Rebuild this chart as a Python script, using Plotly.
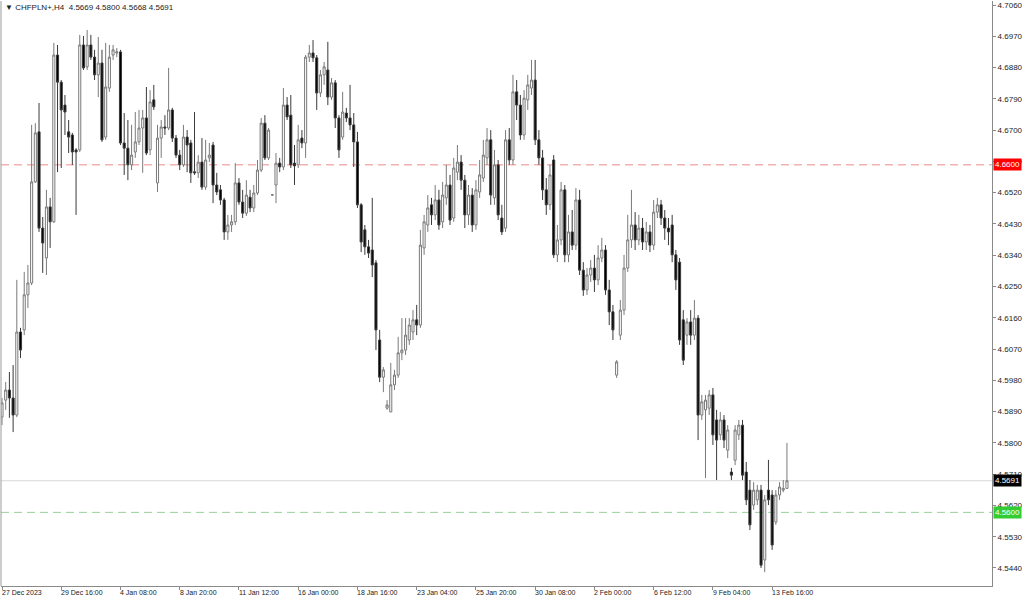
import plotly.graph_objects as go

symbol_title = "\u25BC CHFPLN+,H4\u00a0\u00a04.5669 4.5800 4.5668 4.5691"

opens = [
4.5874,4.5923,4.5952,4.5929,4.5880,4.6119,4.6125,4.6226,4.6260,4.6551,
4.6695,4.6418,4.6332,4.6479,4.6436,4.6916,4.6838,4.6772,4.6695,4.6686,
4.6643,4.6643,4.6945,4.6882,4.6945,4.6910,4.6859,4.6893,4.6680,4.6821,
4.6916,4.6922,4.6925,4.6663,4.6648,4.6600,4.6637,4.6666,4.6706,4.6735,
4.6643,4.6787,4.6548,4.6677,4.6709,4.6706,4.6758,4.6677,4.6628,4.6600,
4.6680,4.6663,4.6580,4.6577,4.6608,4.6536,4.6620,4.6657,4.6542,4.6528,
4.6499,4.6407,4.6427,4.6436,4.6548,4.6493,4.6461,4.6507,4.6476,4.6519,
4.6585,4.6720,4.6620,4.6513,4.6542,4.6605,4.6594,4.6772,4.6743,4.6605,
4.6600,4.6677,4.6663,4.6910,4.6922,4.6908,4.6807,4.6859,4.6873,4.6795,
4.6836,4.6735,4.6680,4.6749,4.6735,4.6715,4.6666,4.6485,4.6413,4.6364,
4.6355,4.6318,4.6096,4.5989,4.5900,4.5889,4.5967,4.5995,4.6059,4.6067,
4.6096,4.6119,4.6154,4.6139,4.6361,4.6427,4.6485,4.6456,4.6499,4.6436,
4.6505,4.6542,4.6447,4.6579,4.6608,4.6556,4.6456,4.6513,4.6427,4.6522,
4.6562,4.6620,4.6672,4.6505,4.6600,4.6447,4.6418,4.6672,4.6614,4.6810,
4.6772,4.6686,4.6787,4.6821,4.6844,4.6672,4.6620,4.6528,4.6485,4.6614,
4.6341,4.6384,4.6528,4.6341,4.6407,4.6369,4.6499,4.6297,4.6240,4.6283,
4.6303,4.6269,4.6332,4.6355,4.6240,4.6177,4.5995,4.6110,4.6182,4.6303,
4.6384,4.6427,4.6384,4.6418,4.6378,4.6407,4.6369,4.6464,4.6485,4.6447,
4.6418,4.6427,4.6341,4.6320,4.6154,4.6110,4.6148,4.6110,4.6159,4.5880,
4.5895,4.5900,4.5938,4.5866,4.5823,4.5866,4.5779,4.5716,4.5750,4.5823,
4.5851,4.5716,4.5664,4.5621,4.5636,4.5664,4.5463,4.5664,4.5650,4.5572,
4.5650,4.5664,4.5669]

highs = [
4.5929,4.5975,4.6004,4.6024,4.6269,4.6131,4.6292,4.6312,4.6715,4.6720,
4.6778,4.6450,4.6528,4.6505,4.6951,4.6945,4.6844,4.6801,4.6729,4.6692,
4.6648,4.6974,4.6971,4.6988,4.6974,4.6931,4.6968,4.6931,4.6951,4.6945,
4.6945,4.6936,4.6931,4.6749,4.6729,4.6715,4.6752,4.6758,4.6758,4.6824,
4.6815,4.6830,4.6715,4.6729,4.6743,4.6879,4.6764,4.6686,4.6643,4.6715,
4.6700,4.6672,4.6752,4.6628,4.6677,4.6672,4.6663,4.6666,4.6577,4.6542,
4.6505,4.6456,4.6456,4.6605,4.6562,4.6528,4.6556,4.6528,4.6542,4.6614,
4.6735,4.6743,4.6706,4.6515,4.6634,4.6620,4.6821,4.6795,4.6801,4.6657,
4.6715,4.6700,4.6916,4.6945,4.6959,4.6916,4.6873,4.6896,4.6954,4.6850,
4.6844,4.6743,4.6810,4.6764,4.6830,4.6749,4.6695,4.6490,4.6427,4.6384,
4.6505,4.6326,4.6125,4.6018,4.5923,4.6030,4.6010,4.6105,4.6159,4.6159,
4.6159,4.6182,4.6197,4.6413,4.6456,4.6513,4.6505,4.6542,4.6528,4.6551,
4.6600,4.6571,4.6620,4.6657,4.6628,4.6571,4.6542,4.6533,4.6556,4.6614,
4.6672,4.6706,4.6700,4.6643,4.6614,4.6485,4.6700,4.6706,4.6859,4.6844,
4.6801,4.6815,4.6859,4.6902,4.6902,4.6700,4.6643,4.6562,4.6600,4.6628,
4.6427,4.6551,4.6542,4.6456,4.6470,4.6533,4.6528,4.6320,4.6303,4.6326,
4.6341,4.6369,4.6390,4.6369,4.6269,4.6197,4.6038,4.6211,4.6341,4.6456,
4.6528,4.6464,4.6456,4.6447,4.6436,4.6427,4.6499,4.6505,4.6499,4.6470,
4.6447,4.6456,4.6355,4.6332,4.6182,4.6159,4.6182,4.6211,4.6168,4.5938,
4.5938,4.5952,4.5958,4.5895,4.5889,4.5880,4.5851,4.5728,4.5851,4.5866,
4.5866,4.5745,4.5693,4.5687,4.5679,4.5679,4.5650,4.5751,4.5664,4.5664,
4.5687,4.5693,4.5800]

lows = [
4.5851,4.5895,4.5872,4.5831,4.5874,4.6044,4.6110,4.6188,4.6254,4.6548,
4.6407,4.6289,4.6283,4.6361,4.6433,4.6579,4.6591,4.6686,4.6634,4.6600,
4.6456,4.6637,4.6873,4.6873,4.6902,4.6844,4.6795,4.6666,4.6672,4.6810,
4.6902,4.6910,4.6657,4.6571,4.6556,4.6585,4.6620,4.6657,4.6577,4.6628,
4.6628,4.6758,4.6522,4.6620,4.6686,4.6700,4.6666,4.6620,4.6585,4.6594,
4.6579,4.6548,4.6571,4.6562,4.6528,4.6528,4.6608,4.6490,4.6513,4.6485,
4.6384,4.6384,4.6407,4.6427,4.6485,4.6447,4.6453,4.6464,4.6464,4.6513,
4.6579,4.6614,4.6614,4.6511,4.6490,4.6579,4.6585,4.6729,4.6591,4.6542,
4.6591,4.6648,4.6620,4.6896,4.6896,4.6758,4.6795,4.6830,4.6772,4.6787,
4.6706,4.6620,4.6672,4.6723,4.6700,4.6594,4.6476,4.6349,4.6341,4.6332,
4.6277,4.6067,4.5975,4.5946,4.5895,4.5889,4.5952,4.5987,4.6038,4.6053,
4.6082,4.6096,4.6110,4.6131,4.6341,4.6407,4.6427,4.6441,4.6413,4.6418,
4.6485,4.6427,4.6436,4.6556,4.6528,4.6418,4.6427,4.6407,4.6413,4.6505,
4.6551,4.6600,4.6485,4.6485,4.6441,4.6398,4.6407,4.6600,4.6600,4.6729,
4.6672,4.6672,4.6758,4.6801,4.6657,4.6600,4.6499,4.6456,4.6470,4.6332,
4.6320,4.6369,4.6320,4.6320,4.6355,4.6355,4.6283,4.6223,4.6226,4.6263,
4.6234,4.6254,4.6320,4.6226,4.6139,4.6096,4.5987,4.6096,4.6168,4.6292,
4.6361,4.6355,4.6369,4.6355,4.6355,4.6349,4.6355,4.6447,4.6427,4.6384,
4.6369,4.6320,4.6240,4.6082,4.6024,4.6082,4.6082,4.6096,4.5808,4.5866,
4.5699,4.5880,4.5794,4.5693,4.5808,4.5785,4.5756,4.5693,4.5736,4.5808,
4.5693,4.5621,4.5549,4.5607,4.5621,4.5440,4.5428,4.5621,4.5492,4.5564,
4.5636,4.5658,4.5668]

closes = [
4.5915,4.5952,4.5929,4.5880,4.6119,4.6067,4.6226,4.6260,4.6551,4.6692,
4.6418,4.6375,4.6479,4.6436,4.6916,4.6838,4.6758,4.6752,4.6680,4.6637,
4.6637,4.6945,4.6879,4.6945,4.6910,4.6859,4.6893,4.6672,4.6824,4.6910,
4.6931,4.6925,4.6663,4.6648,4.6600,4.6628,4.6666,4.6706,4.6735,4.6634,
4.6781,4.6767,4.6677,4.6709,4.6706,4.6758,4.6677,4.6628,4.6600,4.6680,
4.6657,4.6577,4.6577,4.6608,4.6536,4.6614,4.6628,4.6542,4.6522,4.6499,
4.6407,4.6427,4.6436,4.6548,4.6493,4.6461,4.6513,4.6476,4.6519,4.6585,
4.6720,4.6620,4.6700,4.6514,4.6605,4.6594,4.6772,4.6738,4.6600,4.6597,
4.6672,4.6663,4.6910,4.6922,4.6908,4.6807,4.6859,4.6882,4.6795,4.6836,
4.6735,4.6643,4.6752,4.6735,4.6715,4.6666,4.6485,4.6378,4.6364,4.6346,
4.6312,4.6125,4.5989,4.6010,4.5909,4.5967,4.5995,4.6059,4.6067,4.6110,
4.6139,4.6154,4.6139,4.6369,4.6436,4.6476,4.6456,4.6499,4.6427,4.6513,
4.6542,4.6441,4.6591,4.6608,4.6556,4.6456,4.6513,4.6427,4.6528,4.6571,
4.6628,4.6672,4.6513,4.6600,4.6456,4.6407,4.6672,4.6614,4.6810,4.6772,
4.6686,4.6792,4.6830,4.6844,4.6672,4.6620,4.6528,4.6485,4.6571,4.6341,
4.6384,4.6528,4.6341,4.6407,4.6369,4.6499,4.6297,4.6240,4.6283,4.6303,
4.6269,4.6332,4.6355,4.6240,4.6177,4.6125,4.6033,4.6182,4.6303,4.6384,
4.6427,4.6384,4.6418,4.6378,4.6407,4.6369,4.6464,4.6485,4.6447,4.6418,
4.6407,4.6341,4.6269,4.6096,4.6038,4.6148,4.6110,4.6159,4.5880,4.5918,
4.5923,4.5938,4.5823,4.5808,4.5866,4.5808,4.5837,4.5707,4.5837,4.5851,
4.5707,4.5636,4.5564,4.5664,4.5664,4.5448,4.5636,4.5636,4.5506,4.5650,
4.5673,4.5669,4.5691]

date_ticks = [0, 16, 32, 48, 64, 80, 96, 112, 128, 144, 160, 176, 192, 208]
date_labels = ["27 Dec 2023", "29 Dec 16:00", "4 Jan 08:00", "8 Jan 20:00",
               "11 Jan 12:00", "16 Jan 00:00", "18 Jan 16:00", "23 Jan 04:00",
               "25 Jan 20:00", "30 Jan 08:00", "2 Feb 00:00", "6 Feb 12:00",
               "9 Feb 04:00", "13 Feb 16:00"]

price_ticks = [4.7060, 4.6970, 4.6880, 4.6790, 4.6700, 4.6610, 4.6520, 4.6430,
               4.6340, 4.6250, 4.6160, 4.6070, 4.5980, 4.5890, 4.5800, 4.5710,
               4.5620, 4.5530, 4.5440]

level_red = 4.6600
level_green = 4.5600
last_price = 4.5691

bars = list(range(len(opens)))

fig = go.Figure()
fig.add_trace(go.Candlestick(
    x=bars, open=opens, high=highs, low=lows, close=closes,
    increasing=dict(line=dict(color="#7a7a7a", width=1), fillcolor="#ffffff"),
    decreasing=dict(line=dict(color="#3a3a3a", width=1), fillcolor="#000000"),
    whiskerwidth=0, hoverinfo="skip", showlegend=False,
))

FONT = "Liberation Sans, Arial, sans-serif"
shapes = [
    dict(type="line", xref="paper", x0=0, x1=1, yref="y", y0=level_red, y1=level_red,
         line=dict(color="rgb(238,140,140)", width=1, dash="8px,5px"), layer="below"),
    dict(type="line", xref="paper", x0=0, x1=1, yref="y", y0=last_price, y1=last_price,
         line=dict(color="rgb(215,215,215)", width=1), layer="below"),
    dict(type="line", xref="paper", x0=0, x1=1, yref="y", y0=level_green, y1=level_green,
         line=dict(color="rgb(150,210,150)", width=1, dash="8px,5px"), layer="below"),
    dict(type="line", xref="paper", x0=0, x1=0, yref="paper", y0=0, y1=1,
         line=dict(color="#9a9a9a", width=1)),
]

annotations = [
    dict(xref="paper", yref="paper", x=0, y=1, xanchor="left", yanchor="top",
         text=symbol_title, showarrow=False, xshift=2, yshift=0,
         font=dict(family=FONT, size=8, color="#222222")),
]
for lv, bg in [(level_red, "#ff0000"), (last_price, "#000000"), (level_green, "#33cc33")]:
    annotations.append(dict(xref="paper", yref="y", x=1, y=lv, xanchor="left",
                            yanchor="middle", text=f"{lv:.4f}", showarrow=False,
                            xshift=1, bgcolor=bg, borderpad=1,
                            font=dict(family=FONT, size=8, color="#ffffff")))
for pos, lab in zip(date_ticks, date_labels):
    annotations.append(dict(xref="x", yref="paper", x=pos, y=0, xanchor="left",
                            yanchor="top", text=lab, showarrow=False,
                            xshift=-2, yshift=-1,
                            font=dict(family=FONT, size=7, color="#222222")))

fig.update_layout(
    width=1024, height=599,
    margin=dict(l=1, r=30, t=1, b=13, pad=0),
    paper_bgcolor="#ffffff", plot_bgcolor="#ffffff",
    showlegend=False,
    shapes=shapes, annotations=annotations,
    xaxis=dict(range=[-0.27, 267.38], showgrid=False, zeroline=False,
               showline=True, linecolor="#8a8a8a", linewidth=1,
               ticks="outside", ticklen=3, tickcolor="#8a8a8a",
               tickvals=date_ticks, showticklabels=False,
               rangeslider=dict(visible=False), fixedrange=True),
    yaxis=dict(side="right", range=[4.53881, 4.70715], showgrid=False, zeroline=False,
               showline=True, linecolor="#8a8a8a", linewidth=1,
               ticks="outside", ticklen=3, tickcolor="#8a8a8a",
               tickvals=price_ticks, ticktext=[f"{v:.4f}" for v in price_ticks],
               tickfont=dict(family=FONT, size=8, color="#222222"), fixedrange=True),
    boxgap=0.2,
)

fig.write_html(
    "out.html",
    config={"displayModeBar": False},
    post_script="document.body.style.margin='0px';document.body.style.overflow='hidden';",
)
